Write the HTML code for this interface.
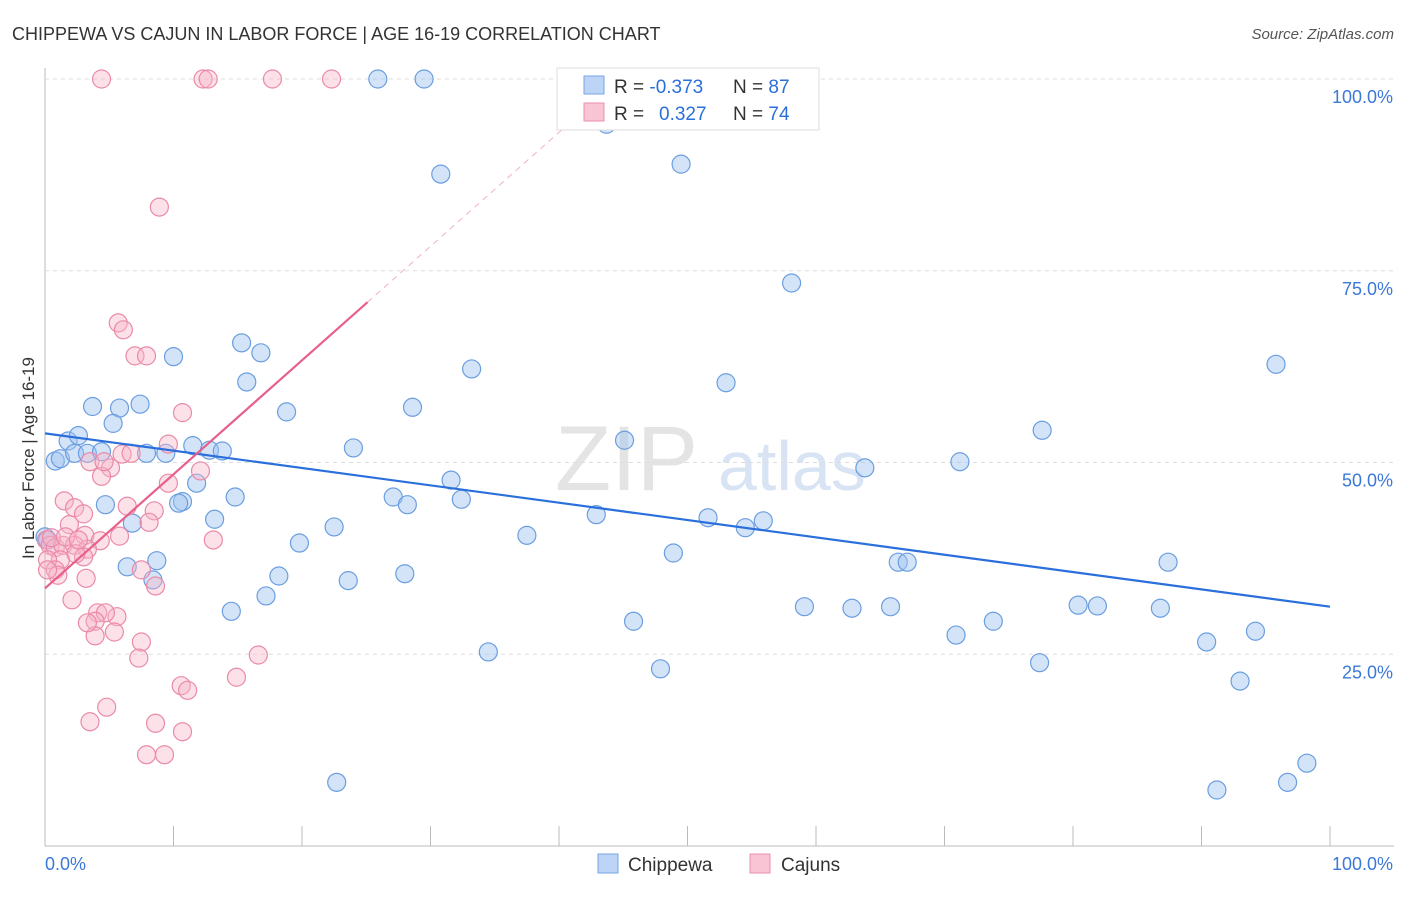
<!DOCTYPE html>
<html><head><meta charset="utf-8"><style>
body{margin:0;background:#fff;font-family:"Liberation Sans",sans-serif}
svg text{font-family:"Liberation Sans",sans-serif}
</style></head><body>
<svg id="c" width="1406" height="892" xmlns="http://www.w3.org/2000/svg">
<text x="12" y="40" font-size="18" fill="#333">CHIPPEWA VS CAJUN IN LABOR FORCE | AGE 16-19 CORRELATION CHART</text>
<text x="1394" y="39" font-size="15" fill="#555" text-anchor="end" font-style="italic">Source: ZipAtlas.com</text>
<text x="555" y="490" font-size="92" fill="#e4e4e4" font-family="Liberation Serif">ZIP</text>
<text x="718" y="490" font-size="70" fill="#d8e4f4">atlas</text>
<text transform="translate(34,458) rotate(-90)" font-size="17" fill="#333" text-anchor="middle">In Labor Force | Age 16-19</text>
<g id="grid"></g><g id="pts"></g><g id="lines"></g>
<g>
<rect x="557" y="68" width="262" height="62" fill="#fff" stroke="#ddd"/>
<rect x="584" y="76" width="20" height="18" fill="#bcd4f6" stroke="#7aa6e6"/>
<rect x="584" y="103" width="20" height="18" fill="#f9c4d4" stroke="#ea90ab"/>
<text x="614" y="93" font-size="19" fill="#333">R = <tspan fill="#2a6fdb">-0.373</tspan></text>
<text x="733" y="93" font-size="19" fill="#333">N = <tspan fill="#2a6fdb">87</tspan></text>
<text x="614" y="120" font-size="19" fill="#333">R = <tspan fill="#2a6fdb" x="659">0.327</tspan></text>
<text x="733" y="120" font-size="19" fill="#333">N = <tspan fill="#2a6fdb">74</tspan></text>
</g>
<g>
<rect x="598" y="854" width="20" height="19" fill="#bcd4f6" stroke="#7aa6e6"/>
<text x="628" y="871" font-size="19" fill="#333">Chippewa</text>
<rect x="750" y="854" width="20" height="19" fill="#f9c4d4" stroke="#ea90ab"/>
<text x="781" y="871" font-size="19" fill="#333">Cajuns</text>
</g>
<text x="45" y="870" font-size="18" fill="#3b78d8">0.0%</text>
<text x="1393" y="870" font-size="18" fill="#3b78d8" text-anchor="end">100.0%</text>
</svg>
<script>
const blue=[[25.9,100],[29.5,100],[43.7,94.1],[49.5,88.9],[30.8,87.6],[58.1,73.4],[95.8,62.8],[33.2,62.2],[53.0,60.4],[15.7,60.5],[15.3,65.6],[16.8,64.3],[10.0,63.8],[3.7,57.3],[5.8,57.1],[7.4,57.6],[5.3,55.1],[18.8,56.6],[28.6,57.2],[1.8,52.8],[2.6,53.5],[0.8,50.2],[1.2,50.5],[2.3,51.2],[3.3,51.2],[4.4,51.4],[7.9,51.2],[9.4,51.2],[11.5,52.2],[12.8,51.6],[13.8,51.5],[24.0,51.9],[45.1,52.9],[77.6,54.2],[71.2,50.1],[63.8,49.3],[31.6,47.7],[11.8,47.3],[14.8,45.5],[10.7,44.9],[10.4,44.7],[4.7,44.5],[27.1,45.5],[28.2,44.5],[32.4,45.2],[42.9,43.2],[51.6,42.8],[55.9,42.4],[54.5,41.5],[6.8,42.1],[13.2,42.6],[22.5,41.6],[37.5,40.5],[19.8,39.5],[48.9,38.2],[8.7,37.2],[6.4,36.4],[66.4,37.0],[67.1,37.0],[87.4,37.0],[18.2,35.2],[23.6,34.6],[28.0,35.5],[8.4,34.7],[17.2,32.6],[14.5,30.6],[59.1,31.2],[62.8,31.0],[65.8,31.2],[80.4,31.4],[81.9,31.3],[86.8,31.0],[45.8,29.3],[73.8,29.3],[70.9,27.5],[94.2,28.0],[90.4,26.6],[34.5,25.3],[47.9,23.1],[77.4,23.9],[93.0,21.5],[98.2,10.8],[96.7,8.3],[22.7,8.3],[91.2,7.3],[0,40.3],[0.2,39.9]];
const pink=[[4.4,100],[12.3,100],[12.7,100],[17.7,100],[22.3,100],[8.9,83.3],[5.7,68.2],[6.1,67.3],[7.0,63.9],[7.9,63.9],[10.7,56.5],[9.6,52.4],[6.0,51.1],[6.7,51.2],[12.1,48.9],[3.5,50.1],[5.1,49.3],[4.4,48.2],[4.6,50.1],[9.6,47.3],[1.5,45.0],[2.3,44.1],[3.0,43.3],[6.4,44.3],[8.5,43.7],[1.9,41.9],[8.1,42.2],[13.1,39.9],[5.8,40.4],[3.1,40.5],[4.3,39.8],[0.1,39.9],[0.4,39.2],[0.8,38.9],[1.4,39.2],[2.3,39.2],[3.3,38.7],[3.0,37.7],[2.4,38.1],[1.2,37.3],[0.2,37.3],[0.8,36.0],[1.0,35.3],[3.2,34.9],[7.5,36.0],[8.6,33.9],[2.1,32.1],[4.1,30.4],[5.6,29.9],[4.7,30.4],[3.9,29.3],[5.4,27.9],[3.9,27.4],[3.3,29.1],[7.5,26.6],[7.3,24.5],[16.6,24.9],[14.9,22.0],[10.6,20.9],[11.1,20.3],[4.8,18.1],[3.5,16.2],[8.6,16.0],[10.7,14.9],[7.9,11.9],[9.3,11.9],[0.2,36.0],[0.5,40.2],[1.6,40.3],[2.6,39.9]];
const blueTrend=[53.8,31.2];
const pinkTrend=[33.6,70.9,25.1];
const yTicks=[25,50,75,100];
const yTickLabels=["25.0%","50.0%","75.0%","100.0%"];
const xTicks=[0,10,20,30,40,50,60,70,80,90,100];
const X=v=>45+v*12.85, Y=v=>846-v*7.67;
const NS="http://www.w3.org/2000/svg";
function mk(p,t,a){const e=document.createElementNS(NS,t);for(const k in a)e.setAttribute(k,a[k]);p.appendChild(e);return e;}
const g=document.getElementById('grid');
let ax=mk(g,'line',{x1:45,y1:68,x2:45,y2:846,stroke:'#bbb'});

let bx=mk(g,'line',{x1:45,y1:846,x2:1394,y2:846,stroke:'#bbb'});

yTicks.forEach((t,i)=>{
 const l=mk(g,'line',{x1:45,y1:Y(t),x2:1394,y2:Y(t),stroke:'#ddd','stroke-dasharray':'4,4'});
 
 const tx=mk(g,'text',{x:1393,y:Y(t)+24,'font-size':18,fill:'#3b78d8','text-anchor':'end'});
 tx.textContent=yTickLabels[i];
 
});
xTicks.forEach(t=>{
 const l=mk(g,'line',{x1:X(t),y1:826,x2:X(t),y2:846,stroke:'#bbb'});
 
});
const pg=document.getElementById('pts');
blue.forEach(d=>{const c=mk(pg,'circle',{cx:X(d[0]),cy:Y(d[1]),r:9,fill:'rgba(160,196,240,0.45)',stroke:'#6a9ee0','stroke-width':1.2});
 });
pink.forEach(d=>{const c=mk(pg,'circle',{cx:X(d[0]),cy:Y(d[1]),r:9,fill:'rgba(248,180,200,0.4)',stroke:'#ea8aa8','stroke-width':1.2});
 });
const lg=document.getElementById('lines');
let bl=mk(lg,'line',{x1:X(0),y1:Y(blueTrend[0]),x2:X(100),y2:Y(blueTrend[1]),stroke:'#2a6fdb','stroke-width':2.2});

const slope=(pinkTrend[1]-pinkTrend[0])/pinkTrend[2];
const xEnd=(100-pinkTrend[0])/slope;
let pd=mk(lg,'line',{x1:X(pinkTrend[2]),y1:Y(pinkTrend[1]),x2:X(xEnd),y2:Y(100),stroke:'#f0b0c4','stroke-width':1,'stroke-dasharray':'6,5'});

let pl=mk(lg,'line',{x1:X(0),y1:Y(pinkTrend[0]),x2:X(pinkTrend[2]),y2:Y(pinkTrend[1]),stroke:'#e8608a','stroke-width':2.2});

</script>
</body></html>
